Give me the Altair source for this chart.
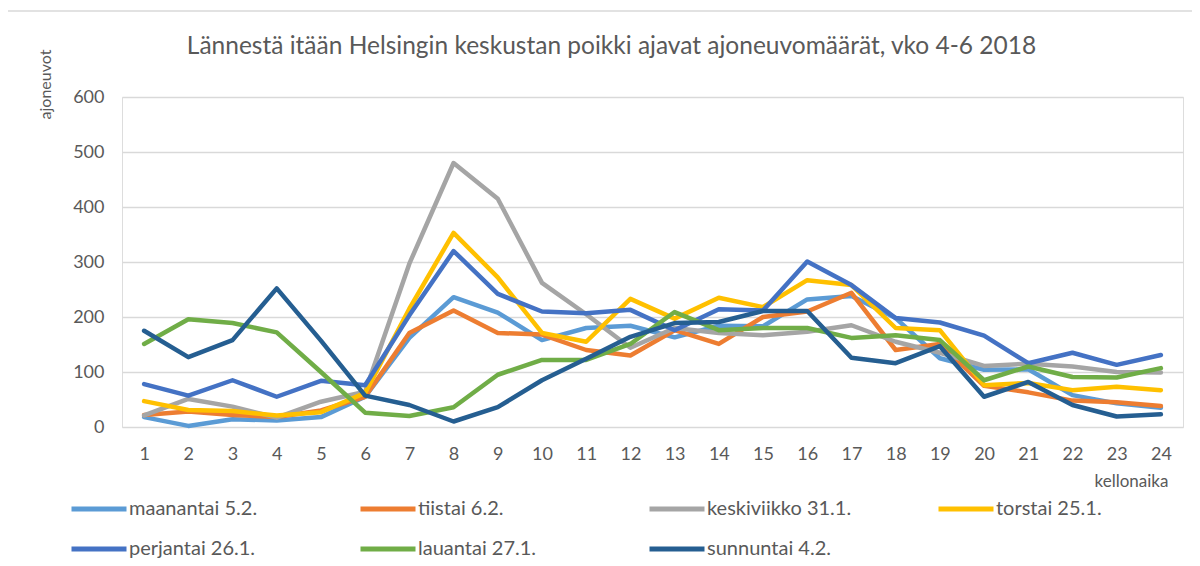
import altair as alt
import pandas as pd

hours = list(range(1, 25))
series = ["maanantai 5.2.", "tiistai 6.2.", "keskiviikko 31.1.", "torstai 25.1.",
          "perjantai 26.1.", "lauantai 27.1.", "sunnuntai 4.2."]
colors = ["#5B9BD5", "#ED7D31", "#A5A5A5", "#FFC000", "#4472C4", "#70AD47", "#255E91"]

maanantai = [18, 2, 14, 12, 18, 55, 162, 236, 208, 158, 180, 184, 163, 184, 183, 232, 238, 198, 125, 104, 105, 58, 43, 35]
tiistai = [22, 28, 22, 18, 30, 55, 171, 212, 171, 168, 140, 130, 176, 151, 200, 210, 244, 140, 151, 75, 63, 48, 45, 38]
keskiviikko = [21, 51, 37, 17, 46, 64, 297, 480, 415, 262, 205, 144, 180, 171, 167, 173, 185, 155, 135, 111, 115, 110, 100, 99]
torstai = [47, 31, 29, 21, 27, 62, 215, 353, 272, 171, 155, 233, 197, 235, 218, 267, 258, 180, 176, 76, 80, 67, 73, 67]
perjantai = [78, 57, 85, 55, 84, 76, 203, 320, 242, 210, 207, 213, 176, 214, 212, 301, 258, 198, 190, 166, 116, 135, 113, 131]
lauantai = [151, 196, 189, 172, 100, 26, 20, 36, 95, 122, 122, 151, 209, 176, 180, 180, 162, 167, 158, 85, 110, 91, 90, 107]
sunnuntai = [175, 127, 158, 252, 157, 57, 40, 10, 36, 85, 124, 164, 189, 191, 211, 211, 126, 116, 147, 55, 82, 40, 19, 23]

values = [maanantai, tiistai, keskiviikko, torstai, perjantai, lauantai, sunnuntai]

rows = []
for name, vals in zip(series, values):
    for h, v in zip(hours, vals):
        rows.append({"päivä": name, "tunti": h, "ajoneuvot": v})
df = pd.DataFrame(rows)

FONT = "Lato"
TXT = "#595959"

lines = alt.Chart(df).mark_line(strokeWidth=4.5, strokeJoin="round", strokeCap="round").encode(
    x=alt.X("tunti:O", sort=hours,
            scale=alt.Scale(type="point", padding=0.5),
            axis=alt.Axis(title="kellonaika", labelAngle=0, ticks=False, domain=False,
                          labelPadding=18, labelFontSize=18, labelColor=TXT, labelFont=FONT,
                          titleFontSize=17, titleFont=FONT, titleColor=TXT, titleFontWeight="normal",
                          titleX=1009, titleY=54, titleAlign="center", titleBaseline="middle",
                          grid=False)),
    y=alt.Y("ajoneuvot:Q",
            scale=alt.Scale(domain=[0, 600], nice=False),
            axis=alt.Axis(title="ajoneuvot", values=[0, 100, 200, 300, 400, 500, 600],
                          ticks=False, domain=False, labelPadding=18, labelFontSize=18,
                          labelColor=TXT, labelFont=FONT, gridColor="#D9D9D9", gridWidth=1.3,
                          titleFontSize=16, titleFont=FONT, titleColor=TXT, titleFontWeight="normal",
                          titleAngle=270, titleX=-77, titleY=-13, titleAlign="center",
                          titleBaseline="middle")),
    color=alt.Color("päivä:N", sort=series,
                    scale=alt.Scale(domain=series, range=colors),
                    legend=alt.Legend(title=None, orient="none", legendX=-53, legendY=382,
                                      columns=4, direction="horizontal",
                                      symbolType="stroke", symbolSize=3025,
                                      symbolStrokeWidth=5, labelFontSize=20, labelFont=FONT,
                                      labelColor=TXT, labelOffset=0, columnPadding=76,
                                      rowPadding=0, gridAlign="all", labelLimit=300)),
    order=alt.Order("tunti:Q"),
)

frame = alt.Chart(alt.Data(values=[{}])).mark_rule(color="#D9D9D9", strokeWidth=1.3).encode(
    x=alt.value(-117), x2=alt.value(1070), y=alt.value(-86)
)
frame_left = alt.Chart(alt.Data(values=[{}])).mark_rule(color="#D9D9D9", strokeWidth=1.3).encode(
    x=alt.value(-117), y=alt.value(-86), y2=alt.value(470)
)

chart = alt.layer(frame, frame_left, lines).properties(
    width=1061, height=330,
    title=alt.TitleParams("Lännestä itään Helsingin keskustan poikki ajavat ajoneuvomäärät, vko 4-6 2018",
                          font=FONT, fontSize=24.5, fontWeight="normal", color=TXT,
                          anchor="middle", offset=-49, dx=-41),
    autosize=alt.AutoSizeParams(type="none"),
    padding={"left": 114, "top": 89, "right": 9, "bottom": 139},
).configure_view(stroke=None).configure(background="white")

chart.save("out.html", embed_options={"renderer": "svg", "actions": False})
